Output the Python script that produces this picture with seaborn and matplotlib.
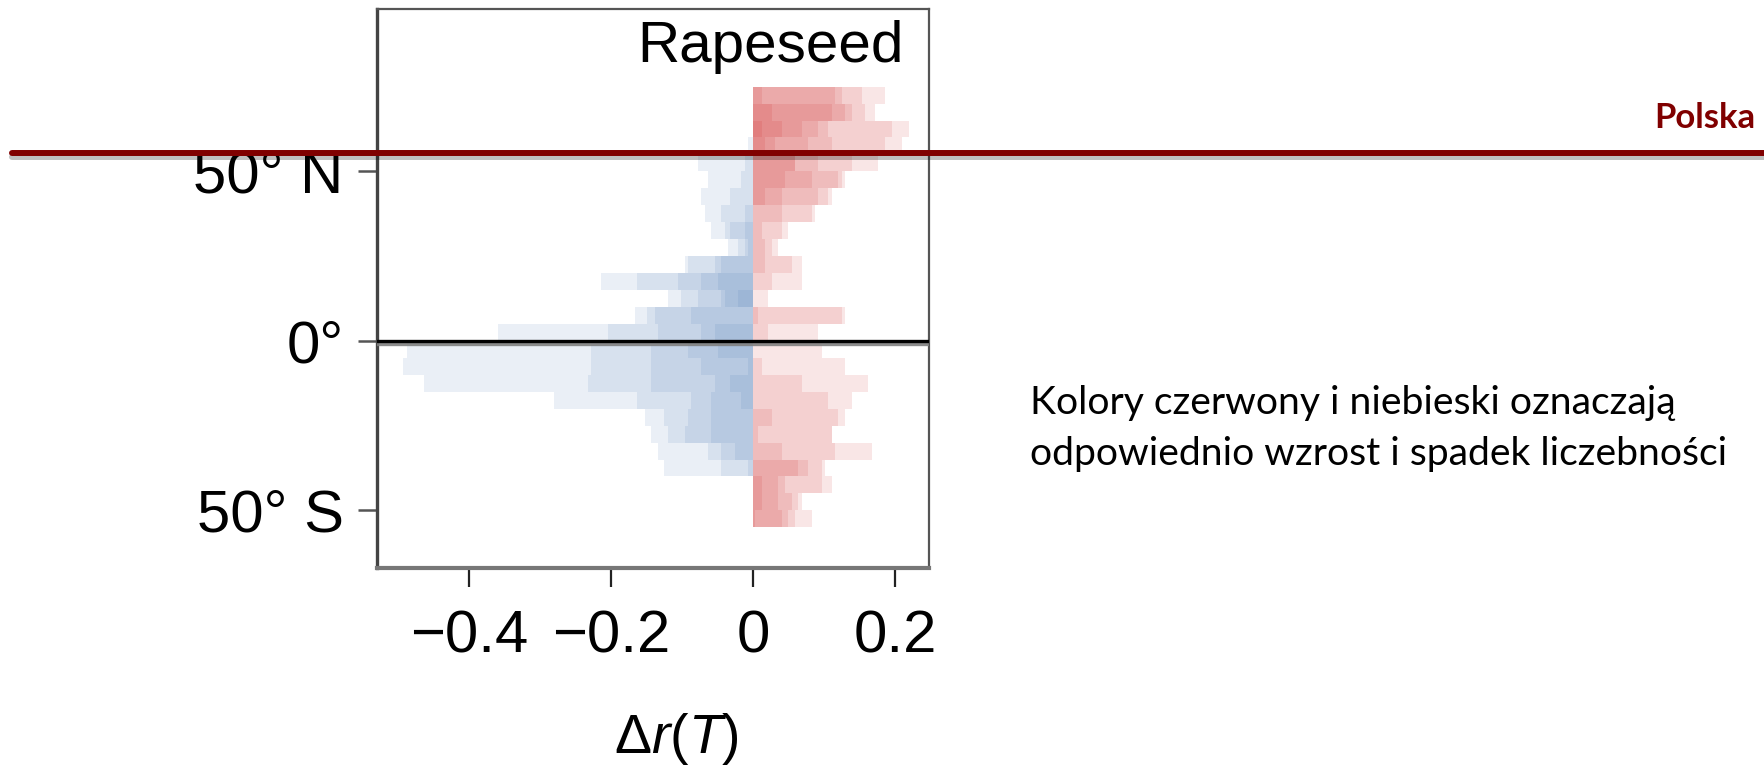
import numpy as np
import pandas as pd
import seaborn as sns
import matplotlib.pyplot as plt
import matplotlib.patheffects as pe
from matplotlib.lines import Line2D

# latitude bins (5 degree bands, centre values), north at the top
lat = [72.5, 67.5, 62.5, 57.5, 52.5, 47.5, 42.5, 37.5, 32.5, 27.5, 22.5, 17.5, 12.5,
       7.5, 2.5, -2.5, -7.5, -12.5, -17.5, -22.5, -27.5, -32.5, -37.5, -42.5, -47.5, -52.5]

# positive changes, one overlaid layer per list (largest first)
gain_1 = [0.186, 0.172, 0.220, 0.210, 0.176, 0.129, 0.111, 0.087, 0.049, 0.035, 0.069, 0.069, 0.021,
          0.129, 0.091, 0.097, 0.129, 0.162, 0.139, 0.129, 0.111, 0.167, 0.101, 0.111, 0.069, 0.083]
gain_2 = [0.153, 0.158, 0.196, 0.186, 0.139, 0.125, 0.105, 0.083, 0.040, 0.026, 0.055, 0.026, 0.0,
          0.125, 0.021, 0.0, 0.012, 0.069, 0.105, 0.119, 0.111, 0.115, 0.097, 0.097, 0.063, 0.059]
gain_3 = [0.125, 0.139, 0.105, 0.111, 0.092, 0.119, 0.091, 0.040, 0.012, 0.016, 0.016, 0.0, 0.0,
          0.007, 0.0, 0.0, 0.0, 0.0, 0.0, 0.026, 0.007, 0.040, 0.077, 0.045, 0.055, 0.049]
gain_4 = [0.115, 0.129, 0.092, 0.077, 0.059, 0.083, 0.040, 0.0, 0.0, 0.0, 0.0, 0.0, 0.0,
          0.0, 0.0, 0.0, 0.0, 0.0, 0.0, 0.0, 0.0, 0.0, 0.063, 0.035, 0.035, 0.040]
gain_5 = [0.012, 0.111, 0.069, 0.031, 0.059, 0.045, 0.016, 0.0, 0.0, 0.0, 0.0, 0.0, 0.0,
          0.0, 0.0, 0.0, 0.0, 0.0, 0.0, 0.0, 0.0, 0.0, 0.0, 0.012, 0.012, 0.002]
gain_6 = [0.0, 0.026, 0.040, 0.016, 0.0, 0.0, 0.0, 0.0, 0.0, 0.0, 0.0, 0.0, 0.0,
          0.0, 0.0, 0.0, 0.0, 0.0, 0.0, 0.0, 0.0, 0.0, 0.0, 0.0, 0.0, 0.0]
gain_7 = [0.0, 0.0, 0.012, 0.0, 0.0, 0.0, 0.0, 0.0, 0.0, 0.0, 0.0, 0.0, 0.0,
          0.0, 0.0, 0.0, 0.0, 0.0, 0.0, 0.0, 0.0, 0.0, 0.0, 0.0, 0.0, 0.0]

# negative changes
loss_1 = [0.0, 0.0, 0.0, -0.0075, -0.078, -0.064, -0.074, -0.068, -0.060, -0.036, -0.096, -0.215, -0.120,
          -0.167, -0.360, -0.488, -0.493, -0.464, -0.281, -0.153, -0.144, -0.134, -0.125, 0.0, 0.0, 0.0]
loss_2 = [0.0, 0.0, 0.0, 0.0, -0.012, -0.017, -0.032, -0.046, -0.040, -0.022, -0.092, -0.163, -0.102,
          -0.149, -0.205, -0.229, -0.229, -0.233, -0.163, -0.125, -0.120, -0.064, -0.046, 0.0, 0.0, 0.0]
loss_3 = [0.0, 0.0, 0.0, 0.0, 0.0, 0.0, 0.0, -0.012, -0.032, -0.012, -0.054, -0.106, -0.078,
          -0.139, -0.134, -0.144, -0.144, -0.144, -0.088, -0.092, -0.096, -0.046, -0.0075, 0.0, 0.0, 0.0]
loss_4 = [0.0, 0.0, 0.0, 0.0, 0.0, 0.0, 0.0, 0.0, -0.012, -0.0075, -0.046, -0.074, -0.046,
          -0.088, -0.074, -0.092, -0.074, -0.054, -0.060, -0.060, -0.060, -0.026, 0.0, 0.0, 0.0, 0.0]
loss_5 = [0.0, 0.0, 0.0, 0.0, 0.0, 0.0, 0.0, 0.0, 0.0, 0.0, 0.0, -0.050, -0.040,
          0.0, -0.054, -0.050, -0.0075, -0.032, -0.017, 0.0, 0.0, 0.0, 0.0, 0.0, 0.0, 0.0]
loss_6 = [0.0, 0.0, 0.0, 0.0, 0.0, 0.0, 0.0, 0.0, 0.0, 0.0, 0.0, 0.0, -0.022,
          0.0, 0.0, 0.0, 0.0, 0.0, 0.0, 0.0, 0.0, 0.0, 0.0, 0.0, 0.0, 0.0]

gains = [gain_1, gain_2, gain_3, gain_4, gain_5, gain_6, gain_7]
losses = [loss_1, loss_2, loss_3, loss_4, loss_5, loss_6]

ytick_pos = [50, 0, -50]
ytick_lab = ["50° N", "0°", "50° S"]
xtick_pos = [-0.4, -0.2, 0, 0.2]
xtick_lab = ["\u22120.4", "\u22120.2", "0", "0.2"]

red = "#cc1010"
blue = "#3769af"

sns.set_style("white")
plt.rcParams["font.family"] = ["Liberation Sans", "DejaVu Sans"]
plt.rcParams["text.color"] = "black"
plt.rcParams["axes.labelcolor"] = "black"
plt.rcParams["xtick.labelcolor"] = "black"
plt.rcParams["ytick.labelcolor"] = "black"
plt.rcParams["mathtext.fontset"] = "custom"
plt.rcParams["mathtext.rm"] = "Liberation Sans"
plt.rcParams["mathtext.it"] = "Liberation Sans:italic"

fig = plt.figure(figsize=(17.65, 7.73), dpi=100)
ax = fig.add_axes([0.2136, 0.2652, 0.3127, 0.7232])

for vals in gains:
    sns.barplot(x=vals, y=lat, orient="y", native_scale=True, width=1.0, color=red,
                saturation=1, alpha=0.1, errorbar=None, linewidth=0, ax=ax)
for vals in losses:
    sns.barplot(x=vals, y=lat, orient="y", native_scale=True, width=1.0, color=blue,
                saturation=1, alpha=0.1, errorbar=None, linewidth=0, ax=ax)

ax.axhline(0, color="black", lw=2.4, zorder=5,
           path_effects=[pe.SimpleLineShadow(offset=(0, -2), shadow_color="gray", alpha=0.9), pe.Normal()])

ax.set_xlim(-0.530, 0.2476)
ax.set_ylim(-67.0, 97.9)
ax.set_xticks(xtick_pos, labels=xtick_lab)
ax.set_yticks(ytick_pos, labels=ytick_lab)
ax.tick_params(axis="x", length=14, width=1.6, color="#222222", pad=16, labelsize=43,
               labelcolor="black", bottom=True)
ax.tick_params(axis="y", length=14, width=1.8, color="#555555", pad=10, labelsize=43,
               labelcolor="black", left=True)
ax.set_ylabel("")
ax.set_xlabel(r"$\Delta r(T)$", fontsize=40, color="black")
ax.xaxis.set_label_coords(0.542, -0.255)

for side in ["top", "right"]:
    ax.spines[side].set_color("#555555")
    ax.spines[side].set_linewidth(1.6)
ax.spines["left"].set_color("#444444")
ax.spines["left"].set_linewidth(2.4)
ax.spines["bottom"].set_color("#777777")
ax.spines["bottom"].set_linewidth(3)

ax.text(0.955, 0.905, "Rapeseed", transform=ax.transAxes, ha="right", va="baseline",
        fontsize=42, color="black")

# Poland latitude marker
fig.add_artist(Line2D([0.0068, 1.0], [0.802, 0.802], color="#800000", lw=4.3, zorder=10,
                      path_effects=[pe.SimpleLineShadow(offset=(0, -3), shadow_color="black", alpha=0.25),
                                    pe.Normal()]))
fig.text(0.9943, 0.8344, "Polska", ha="right", va="baseline", fontsize=25, fontweight="bold",
         color="#800000", family=["Lato", "DejaVu Sans"])

fig.text(0.5836, 0.4644, "Kolory czerwony i niebieski oznaczają", ha="left", va="baseline",
         fontsize=28.2, color="black", family=["Lato", "DejaVu Sans"])
fig.text(0.5836, 0.3985, "odpowiednio wzrost i spadek liczebności", ha="left", va="baseline",
         fontsize=28.2, color="black", family=["Lato", "DejaVu Sans"])

fig.savefig("out.png", dpi=100)
